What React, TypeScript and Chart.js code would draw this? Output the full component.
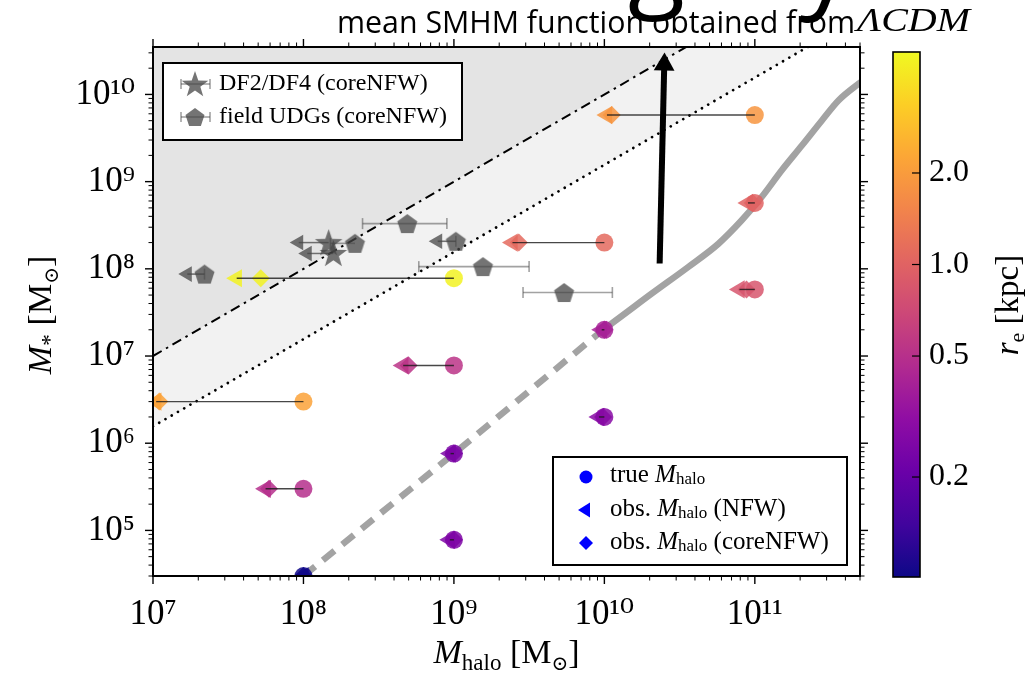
import React, { useEffect, useRef } from 'react';
import { Chart, registerables } from 'chart.js';

Chart.register(...registerables);

const SERIF = '"Liberation Serif", "DejaVu Serif", serif';
const SANS = '"Open Sans", "DejaVu Sans", sans-serif';

// ---------- axes ----------
const X_MIN = 1e7;
const X_MAX = 5e11;
const Y_MIN = 3e4;
const Y_MAX = 3.5e10;
const X_DECADES = [7, 8, 9, 10, 11];
const Y_DECADES = [4, 5, 6, 7, 8, 9, 10];
const TICK_MULTIPLES = [1, 2, 3, 4, 5, 6, 7, 8, 9];

// ---------- colour bar: r_e [kpc], log norm ----------
const CB_MIN = 0.0938;
const CB_MAX = 5.0;
const CB_TICKS = [0.2, 0.5, 1.0, 2.0];
const CB_TICK_LABELS = ['0.2', '0.5', '1.0', '2.0'];

// ---------- simulated dwarfs ----------
const trueMhalo = [1e9, 1e11, 1e10, 1e11, 1e11, 1e10, 1e9, 1e8, 1e8, 1e10, 1e9, 1e9, 1e8];
const mStar = [7.8e7, 5.8e9, 2.0e8, 5.7e8, 5.8e7, 2.0e7, 7.8e6, 3.0e6, 3.0e5, 2.0e6, 7.6e5, 7.8e4, 3.0e4];
const obsMhaloNFW = [3.6e7, 1.04e10, 2.45e9, 9.0e10, 7.9e10, 9.6e9, 4.6e8, 1.05e7, 5.6e7, 9.2e9, 9.5e8, 9.4e8, 1.0e8];
const obsMhaloCore = [5.2e7, 1.12e10, 2.7e9, 9.7e10, 8.8e10, 1.0e10, 5.0e8, 1.1e7, 5.9e7, 9.8e9, 1.0e9, 1.0e9, 1.0e8];
const rEff = [4.7, 1.86, 1.1, 1.0, 0.84, 0.41, 0.53, 2.16, 0.49, 0.285, 0.25, 0.26, 0.095];

// ---------- DF2 / DF4 (coreNFW) ----------
const dfMhalo = [1.47e8, 1.58e8];
const dfMstar = [2.0e8, 1.5e8];
const dfMhaloLimit = [9.3e7, 1.06e8];

// ---------- field UDGs (coreNFW) ----------
const udgMhalo = [2.2e7, 2.2e8, 4.9e8, 1.03e9, 1.56e9, 5.4e9];
const udgMstar = [8.7e7, 1.96e8, 3.3e8, 2.07e8, 1.06e8, 5.35e7];
const udgMhaloLow = [1.69e7, 1.51e8, 2.47e8, 7.8e8, 5.84e8, 2.88e9];
const udgMhaloHigh = [2.2e7, 2.2e8, 8.98e8, 1.03e9, 3.16e9, 1.13e10];
const udgIsLimit = [true, false, false, true, false, false];

// ---------- reference lines ----------
const refMhalo = [1e7, 5e11];
const refUnity = [1e7, 5e11]; // M* = Mhalo
const refBaryon = [1.56e6, 7.8e10]; // M* = f_b Mhalo

// ---------- mean SMHM relation (LCDM) ----------
const smhmExtrapMhalo = [1e8, 1e9, 1e10];
const smhmExtrapMstar = [3.0e4, 7.6e5, 2.06e7];
const smhmMhalo = [1e10, 1.11e10, 2.06e10, 3.61e10, 5.73e10, 8.18e10, 1.11e11, 1.51e11, 2.06e11, 2.8e11, 3.61e11, 4.91e11, 5.62e11];
const smhmMstar = [2.06e7, 2.34e7, 5.18e7, 1.05e8, 1.94e8, 3.6e8, 6.65e8, 1.35e9, 2.61e9, 5.06e9, 8.57e9, 1.33e10, 1.58e10];

// ---------- annotation arrow ----------
const arrowMhalo = [2.33e10, 2.5e10];
const arrowMstar = [1.15e8, 2.2e10];

const PLASMA = [
  [13, 8, 135], [65, 4, 157], [106, 0, 168], [143, 13, 164], [177, 42, 144],
  [204, 71, 120], [225, 100, 98], [242, 132, 75], [252, 166, 54], [252, 206, 37], [240, 249, 33],
];
function plasma(t: number) {
  const c = Math.min(1, Math.max(0, t)) * 10;
  const i = Math.min(9, Math.floor(c));
  const f = c - i;
  const a = PLASMA[i], b = PLASMA[i + 1];
  return [0, 1, 2].map((k) => Math.round(a[k] + (b[k] - a[k]) * f));
}
function cbFrac(r: number) {
  return Math.log(r / CB_MIN) / Math.log(CB_MAX / CB_MIN);
}
function reColor(r: number, alpha: number) {
  const [R, G, B] = plasma(cbFrac(r));
  return `rgba(${R},${G},${B},${alpha})`;
}

function buildTicks(decades: number[], min: number, max: number) {
  const out: any[] = [];
  decades.forEach((d) => {
    TICK_MULTIPLES.forEach((m) => {
      const v = m * Math.pow(10, d);
      if (v >= min * 0.9999 && v <= max * 1.0001) out.push({ value: v, major: m === 1 });
    });
  });
  return out;
}
const SUP = '⁰¹²³⁴⁵⁶⁷⁸⁹';
function powLabel(v: number) {
  const e = Math.round(Math.log10(v));
  return '10' + String(e).split('').map((c) => SUP[+c]).join('');
}

function shapePath(ctx: CanvasRenderingContext2D, kind: string, x: number, y: number, r: number) {
  ctx.beginPath();
  if (kind === 'pentagon') {
    for (let i = 0; i < 5; i++) {
      const a = -Math.PI / 2 + (i * 2 * Math.PI) / 5;
      const px = x + r * Math.cos(a), py = y + r * Math.sin(a);
      i === 0 ? ctx.moveTo(px, py) : ctx.lineTo(px, py);
    }
  } else {
    for (let i = 0; i < 10; i++) {
      const a = -Math.PI / 2 + (i * Math.PI) / 5;
      const rr = i % 2 === 0 ? r : r * 0.4;
      const px = x + rr * Math.cos(a), py = y + rr * Math.sin(a);
      i === 0 ? ctx.moveTo(px, py) : ctx.lineTo(px, py);
    }
  }
  ctx.closePath();
}
function makeMarker(kind: string, r: number, fill: string) {
  const c = document.createElement('canvas');
  const s = Math.ceil(r * 2 + 4);
  c.width = s;
  c.height = s;
  const g = c.getContext('2d')!;
  shapePath(g, kind, s / 2, s / 2 + 1, r);
  g.fillStyle = fill;
  g.fill();
  return c;
}

type Seg = { t: string; f: string; dy?: number };
function drawRich(ctx: CanvasRenderingContext2D, segs: Seg[], x: number, y: number, align: string) {
  let w = 0;
  segs.forEach((s) => { ctx.font = s.f; w += ctx.measureText(s.t).width; });
  let cx = align === 'center' ? x - w / 2 : x;
  ctx.textAlign = 'left';
  segs.forEach((s) => {
    ctx.font = s.f;
    ctx.fillText(s.t, cx, y + (s.dy || 0));
    cx += ctx.measureText(s.t).width;
  });
}

const GRAY = 'rgba(70,70,70,0.75)';
const GRAY_BAR = 'rgba(70,70,70,0.5)';

const decorPlugin = {
  id: 'decor',
  afterDraw(chart: any) {
    const ctx: CanvasRenderingContext2D = chart.ctx;
    const { left, right, top, bottom } = chart.chartArea;
    const xs = chart.scales.x, ys = chart.scales.y;
    ctx.save();
    ctx.strokeStyle = '#000';
    const seg = (a: number, b: number, c: number, d: number) => { ctx.beginPath(); ctx.moveTo(a, b); ctx.lineTo(c, d); ctx.stroke(); };
    xs.ticks.forEach((t: any) => {
      const p = xs.getPixelForValue(t.value);
      const L = t.major ? 8 : 4.5;
      ctx.lineWidth = t.major ? 1.4 : 1;
      seg(p, bottom, p, bottom + L);
      seg(p, top, p, top - L);
    });
    ys.ticks.forEach((t: any) => {
      const p = ys.getPixelForValue(t.value);
      const L = t.major ? 8 : 4.5;
      ctx.lineWidth = t.major ? 1.4 : 1;
      seg(left, p, left - L, p);
      seg(right, p, right + L, p);
    });
    ctx.lineWidth = 2;
    ctx.strokeRect(left, top, right - left, bottom - top);

    // ---- colour bar ----
    const cbL = 893, cbR = 920, cbT = 52, cbB = 577;
    const grad = ctx.createLinearGradient(0, cbB, 0, cbT);
    PLASMA.forEach((c, i) => grad.addColorStop(i / 10, `rgb(${c[0]},${c[1]},${c[2]})`));
    ctx.fillStyle = grad;
    ctx.fillRect(cbL, cbT, cbR - cbL, cbB - cbT);
    ctx.lineWidth = 1.6;
    ctx.strokeRect(cbL, cbT, cbR - cbL, cbB - cbT);
    ctx.fillStyle = '#000';
    ctx.font = `32px ${SERIF}`;
    ctx.textBaseline = 'middle';
    CB_TICKS.forEach((v, i) => {
      const py = cbB - cbFrac(v) * (cbB - cbT);
      ctx.lineWidth = 1.2;
      seg(cbR - 8, py, cbR, py);
      ctx.textAlign = 'left';
      ctx.fillText(CB_TICK_LABELS[i], 929, py);
    });
    ctx.save();
    ctx.translate(1018, 305);
    ctx.rotate(-Math.PI / 2);
    ctx.textBaseline = 'alphabetic';
    drawRich(ctx, [
      { t: 'r', f: `italic 33px ${SERIF}` },
      { t: 'e', f: `22px ${SERIF}`, dy: 6 },
      { t: ' [kpc]', f: `33px ${SERIF}` },
    ], 0, 0, 'center');
    ctx.restore();

    // ---- axis titles ----
    ctx.textBaseline = 'alphabetic';
    drawRich(ctx, [
      { t: 'M', f: `italic 34px ${SERIF}` },
      { t: 'halo', f: `23px ${SERIF}`, dy: 7 },
      { t: ' [M', f: `34px ${SERIF}` },
      { t: '⊙', f: `20px ${SERIF}`, dy: 7 },
      { t: ']', f: `34px ${SERIF}` },
    ], (left + right) / 2, 663, 'center');
    ctx.save();
    ctx.translate(51, 315);
    ctx.rotate(-Math.PI / 2);
    drawRich(ctx, [
      { t: 'M', f: `italic 34px ${SERIF}` },
      { t: '*', f: `24px ${SERIF}`, dy: 6 },
      { t: ' [M', f: `34px ${SERIF}` },
      { t: '⊙', f: `20px ${SERIF}`, dy: 7 },
      { t: ']', f: `34px ${SERIF}` },
    ], 0, 0, 'center');
    ctx.restore();

    // ---- title ----
    ctx.font = `105px ${SANS}`;
    ctx.textAlign = 'left';
    ctx.fillText('g', 628, -3);
    ctx.fillText('y', 800, -2);
    const t1 = 'mean SMHM function obtained from';
    ctx.font = `31px ${SANS}`;
    const w1 = ctx.measureText(t1).width;
    ctx.save();
    ctx.translate(337, 33);
    ctx.scale(518 / w1, 1);
    ctx.fillText(t1, 0, 0);
    ctx.restore();
    ctx.font = `italic 34px ${SERIF}`;
    const t2 = 'ΛCDM';
    const w2 = ctx.measureText(t2).width;
    ctx.save();
    ctx.translate(857, 31);
    ctx.scale(113 / w2, 1);
    ctx.fillText(t2, 0, 0);
    ctx.restore();

    // ---- legend 1 (top left) ----
    ctx.fillStyle = '#fff';
    ctx.fillRect(163, 63, 299, 77);
    ctx.lineWidth = 2;
    ctx.strokeStyle = '#000';
    ctx.strokeRect(163, 63, 299, 77);
    const legRows = [{ kind: 'star', y: 84, r: 14, label: 'DF2/DF4 (coreNFW)' }, { kind: 'pentagon', y: 117, r: 10, label: 'field UDGs (coreNFW)' }];
    legRows.forEach((row) => {
      ctx.strokeStyle = GRAY_BAR;
      ctx.lineWidth = 1.6;
      seg(181, row.y, 210, row.y);
      seg(181, row.y - 5, 181, row.y + 5);
      seg(210, row.y - 5, 210, row.y + 5);
      shapePath(ctx, row.kind, 195, row.y + 1, row.r);
      ctx.fillStyle = GRAY;
      ctx.fill();
      ctx.fillStyle = '#000';
      ctx.font = `24px ${SERIF}`;
      ctx.textBaseline = 'middle';
      ctx.fillText(row.label, 219, row.y);
    });

    // ---- legend 2 (bottom right) ----
    ctx.fillStyle = '#fff';
    ctx.fillRect(553, 457, 294, 108);
    ctx.strokeStyle = '#000';
    ctx.lineWidth = 2;
    ctx.strokeRect(553, 457, 294, 108);
    ctx.fillStyle = '#0000ff';
    ctx.beginPath(); ctx.arc(586, 477, 6.5, 0, Math.PI * 2); ctx.fill();
    ctx.beginPath(); ctx.moveTo(578, 510); ctx.lineTo(590, 502.5); ctx.lineTo(590, 517.5); ctx.closePath(); ctx.fill();
    ctx.beginPath(); ctx.moveTo(586, 536); ctx.lineTo(593, 543); ctx.lineTo(586, 550); ctx.lineTo(579, 543); ctx.closePath(); ctx.fill();
    ctx.fillStyle = '#000';
    ctx.textBaseline = 'middle';
    const sub = (y: number, pre: string, post: string) => drawRich(ctx, [
      { t: pre, f: `25px ${SERIF}` },
      { t: 'M', f: `italic 25px ${SERIF}` },
      { t: 'halo', f: `17px ${SERIF}`, dy: 5 },
      { t: post, f: `25px ${SERIF}` },
    ], 610, y, 'left');
    sub(475, 'true ', '');
    sub(509, 'obs. ', ' (NFW)');
    sub(542, 'obs. ', ' (coreNFW)');
    ctx.restore();
  },
};

export default function App() {
  const ref = useRef<HTMLCanvasElement>(null);
  useEffect(() => {
    const canvas = ref.current!;
    const starImg = makeMarker('star', 14.5, GRAY);
    const pentImg = makeMarker('pentagon', 10.5, GRAY);
    const pts = (xs: number[], ys: number[]) => xs.map((x, i) => ({ x, y: ys[i] }));
    const datasets: any[] = [];

    // shaded regions (fills only)
    datasets.push({ type: 'line', data: pts(refMhalo, refUnity), borderWidth: 0, borderColor: 'rgba(0,0,0,0)', fill: 'end', backgroundColor: '#e4e4e4', pointRadius: 0, order: 100, clip: 0 });
    datasets.push({ type: 'line', data: pts(refMhalo, refBaryon), borderWidth: 0, borderColor: 'rgba(0,0,0,0)', fill: '-1', backgroundColor: '#f2f2f2', pointRadius: 0, order: 99, clip: 0 });
    // reference lines on top of the fills
    datasets.push({ type: 'line', data: pts(refMhalo, refUnity), borderColor: '#000', borderWidth: 2, borderDash: [10, 5, 2.5, 5], fill: false, pointRadius: 0, order: 95, clip: 0 });
    datasets.push({ type: 'line', data: pts(refMhalo, refBaryon), borderColor: '#000', borderWidth: 2.7, borderDash: [0.01, 7.2], borderCapStyle: 'round', fill: false, pointRadius: 0, order: 95, clip: 0 });

    // SMHM relation
    datasets.push({ type: 'line', data: pts(smhmExtrapMhalo, smhmExtrapMstar), borderColor: '#a3a3a3', borderWidth: 6.5, borderDash: [15, 10], fill: false, pointRadius: 0, order: 90, clip: 0 });
    datasets.push({ type: 'line', data: pts(smhmMhalo, smhmMstar), borderColor: '#a3a3a3', borderWidth: 6.5, cubicInterpolationMode: 'monotone', fill: false, pointRadius: 0, order: 90, clip: 0 });

    // arrow
    datasets.push({ type: 'line', data: pts(arrowMhalo, arrowMstar), borderColor: '#000', borderWidth: 6, fill: false, pointRadius: 0, order: 3, clip: 0 });
    datasets.push({ type: 'scatter', data: [{ x: arrowMhalo[1], y: arrowMstar[1] }], pointStyle: 'triangle', rotation: 1.4, pointRadius: 12, backgroundColor: '#000', borderWidth: 0, order: 2, clip: 0 });

    // DF2/DF4
    dfMhalo.forEach((m, i) => {
      datasets.push({ type: 'line', data: [{ x: dfMhaloLimit[i], y: dfMstar[i] }, { x: m, y: dfMstar[i] }], borderColor: 'rgba(60,60,60,0.7)', borderWidth: 1.5, fill: false, pointRadius: 0, order: 40, clip: 0 });
    });
    datasets.push({ type: 'scatter', data: pts(dfMhaloLimit, dfMstar), pointStyle: 'triangle', rotation: -90, pointRadius: 9, backgroundColor: GRAY, borderWidth: 0, order: 35, clip: 0 });
    datasets.push({ type: 'scatter', data: pts(dfMhalo, dfMstar), pointStyle: starImg, pointRadius: 15, order: 30, clip: 0 });

    // field UDGs
    udgMhalo.forEach((m, i) => {
      datasets.push({ type: 'line', data: [{ x: udgMhaloLow[i], y: udgMstar[i] }, { x: udgMhaloHigh[i], y: udgMstar[i] }], borderColor: udgIsLimit[i] ? 'rgba(60,60,60,0.7)' : GRAY_BAR, borderWidth: 1.6, fill: false, pointRadius: 0, order: 40, clip: 0 });
    });
    const capX: number[] = [], capY: number[] = [];
    udgMhalo.forEach((m, i) => {
      if (udgIsLimit[i]) { capX.push(m); capY.push(udgMstar[i]); return; }
      capX.push(udgMhaloLow[i]); capY.push(udgMstar[i]);
      if (udgMhaloHigh[i] > m) { capX.push(udgMhaloHigh[i]); capY.push(udgMstar[i]); }
    });
    datasets.push({ type: 'scatter', data: pts(capX, capY), pointStyle: 'line', rotation: 90, pointRadius: 5.5, borderColor: GRAY_BAR, borderWidth: 1.6, order: 40, clip: 0 });
    const limX = udgMhaloLow.filter((_, i) => udgIsLimit[i]);
    const limY = udgMstar.filter((_, i) => udgIsLimit[i]);
    datasets.push({ type: 'scatter', data: pts(limX, limY), pointStyle: 'triangle', rotation: -90, pointRadius: 9, backgroundColor: GRAY, borderWidth: 0, order: 35, clip: 0 });
    datasets.push({ type: 'scatter', data: pts(udgMhalo, udgMstar), pointStyle: pentImg, pointRadius: 11, order: 30, clip: 0 });

    // simulated dwarfs
    const cols = rEff.map((r) => reColor(r, 0.85));
    datasets.push({ type: 'scatter', data: pts(trueMhalo, mStar), pointStyle: 'circle', pointRadius: 9, backgroundColor: cols, borderWidth: 0, order: 20, clip: 0 });
    datasets.push({ type: 'scatter', data: pts(obsMhaloNFW, mStar), pointStyle: 'triangle', rotation: -90, pointRadius: 10.5, backgroundColor: cols, borderWidth: 0, order: 19, clip: 0 });
    datasets.push({ type: 'scatter', data: pts(obsMhaloCore, mStar), pointStyle: 'rectRot', pointRadius: 9, backgroundColor: cols, borderWidth: 0, order: 18, clip: 0 });
    trueMhalo.forEach((m, i) => {
      datasets.push({ type: 'line', data: [{ x: obsMhaloNFW[i], y: mStar[i] }, { x: m, y: mStar[i] }], borderColor: 'rgba(25,25,25,0.8)', borderWidth: 1.4, fill: false, pointRadius: 0, order: 10, clip: 0 });
    });

    const xTicks = buildTicks(X_DECADES, X_MIN, X_MAX);
    const yTicks = buildTicks(Y_DECADES, Y_MIN, Y_MAX);
    const tickFont = { family: SERIF, size: 35 };

    const chart = new Chart(canvas, {
      type: 'scatter',
      data: { datasets },
      options: {
        animation: false,
        responsive: false,
        devicePixelRatio: 1,
        layout: { padding: { left: 0, top: 47, right: 170, bottom: 0 } },
        plugins: { legend: { display: false }, tooltip: { enabled: false } },
        scales: {
          x: {
            type: 'logarithmic', min: X_MIN, max: X_MAX, position: 'bottom',
            afterBuildTicks: (s: any) => { s.ticks = xTicks.map((t) => ({ ...t })); },
            afterFit: (s: any) => { s.height = 104; },
            grid: { display: false, drawTicks: false },
            border: { display: false },
            ticks: { autoSkip: false, maxRotation: 0, minRotation: 0, padding: 18, color: '#000', font: tickFont,
              callback: (v: any, i: number, ticks: any[]) => (ticks[i] && ticks[i].major ? powLabel(Number(v)) : '') },
          },
          y: {
            type: 'logarithmic', min: Y_MIN, max: Y_MAX, position: 'left',
            afterBuildTicks: (s: any) => { s.ticks = yTicks.map((t) => ({ ...t })); },
            afterFit: (s: any) => { s.width = 153; },
            grid: { display: false, drawTicks: false },
            border: { display: false },
            ticks: { autoSkip: false, padding: 18, color: '#000', font: tickFont,
              callback: (v: any, i: number, ticks: any[]) => (ticks[i] && ticks[i].major ? powLabel(Number(v)) : '') },
          },
        },
      },
      plugins: [decorPlugin],
    } as any);
    return () => chart.destroy();
  }, []);
  return (
    <div style={{ position: 'fixed', left: 0, top: 0, width: 1030, height: 680, background: '#fff' }}>
      <canvas ref={ref} width={1030} height={680} style={{ display: 'block', width: 1030, height: 680 }} />
    </div>
  );
}
